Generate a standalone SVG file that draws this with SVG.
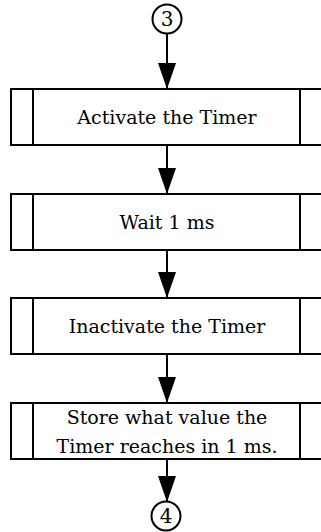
<svg xmlns="http://www.w3.org/2000/svg" width="321" height="532" viewBox="0 0 321 532">
<style>
.box{fill:#fff;stroke:#000;stroke-width:2}
.bar{stroke:#000;stroke-width:2}
.con{stroke:#000;stroke-width:2;fill:none;marker-end:url(#ah)}
.lbl{font-family:"DejaVu Serif","Liberation Serif",serif;font-size:19px;fill:#000;text-anchor:middle}
.num{font-family:"DejaVu Serif","Liberation Serif",serif;font-size:20px;fill:#000;text-anchor:middle}
.circ{fill:#fff;stroke:#000;stroke-width:2}
</style>
<defs>
<marker id="ah" markerUnits="userSpaceOnUse" markerWidth="28" markerHeight="20" refX="26" refY="9" orient="auto">
<path d="M0,0 L26,9 L0,18 Z" fill="#000"/>
</marker>
</defs>
<rect width="321" height="532" fill="#fff"/>
<g id="connectors">
<line class="con" x1="167" y1="33" x2="167" y2="89"/>
<line class="con" x1="167" y1="145" x2="167" y2="194"/>
<line class="con" x1="167" y1="250" x2="167" y2="298"/>
<line class="con" x1="167" y1="354" x2="167" y2="403"/>
<line class="con" x1="167" y1="459" x2="167" y2="502"/>
</g>
<g id="c3">
<circle class="circ" cx="167" cy="19" r="14.5"/>
<text class="num" x="167" y="26">3</text>
</g>
<g id="box1">
<rect class="box" x="11" y="89" width="312" height="56"/>
<line class="bar" x1="33" y1="89" x2="33" y2="145"/>
<line class="bar" x1="300" y1="89" x2="300" y2="145"/>
<text class="lbl" x="167" y="124">Activate the Timer</text>
</g>
<g id="box2">
<rect class="box" x="11" y="194" width="312" height="56"/>
<line class="bar" x1="33" y1="194" x2="33" y2="250"/>
<line class="bar" x1="300" y1="194" x2="300" y2="250"/>
<text class="lbl" x="167" y="229">Wait 1 ms</text>
</g>
<g id="box3">
<rect class="box" x="11" y="298" width="312" height="56"/>
<line class="bar" x1="33" y1="298" x2="33" y2="354"/>
<line class="bar" x1="300" y1="298" x2="300" y2="354"/>
<text class="lbl" x="167" y="333">Inactivate the Timer</text>
</g>
<g id="box4">
<rect class="box" x="11" y="403" width="312" height="56"/>
<line class="bar" x1="33" y1="403" x2="33" y2="459"/>
<line class="bar" x1="300" y1="403" x2="300" y2="459"/>
<text class="lbl" x="167" y="424">Store what value the</text>
<text class="lbl" x="167" y="453">Timer reaches in 1 ms.</text>
</g>
<g id="c4">
<circle class="circ" cx="166" cy="516" r="14.5"/>
<text class="num" x="166" y="523">4</text>
</g>
</svg>
